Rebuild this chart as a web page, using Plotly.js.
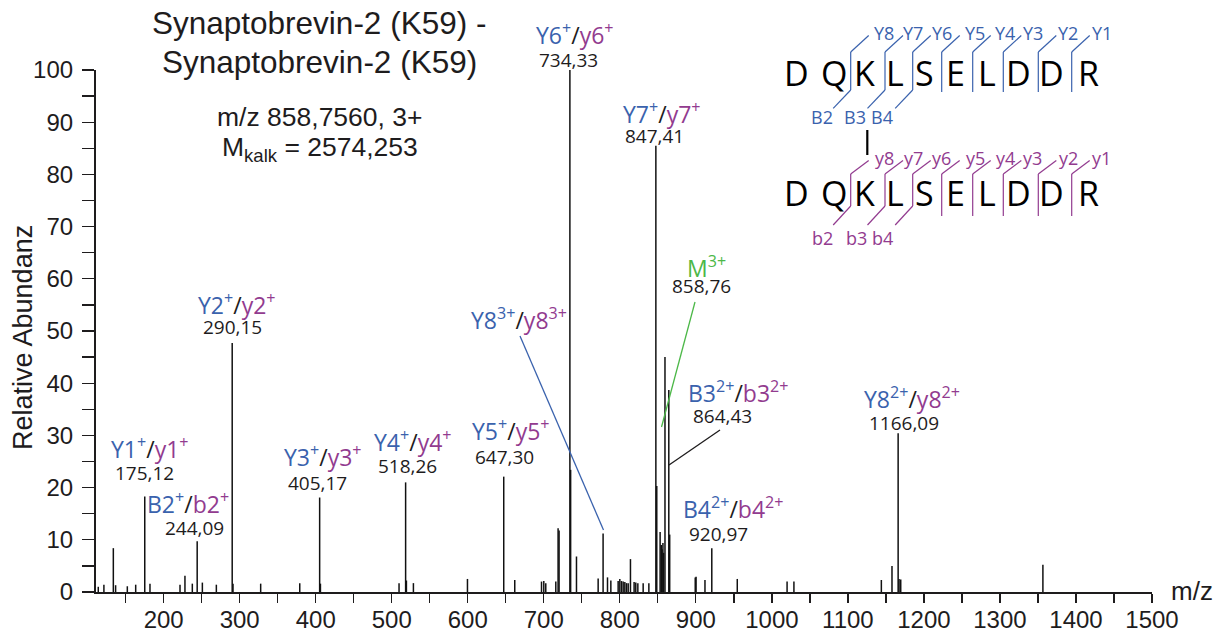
<!DOCTYPE html>
<html><head><meta charset="utf-8">
<script src="https://cdn.plot.ly/plotly-3.0.1.min.js"></script>
<style>html,body{margin:0;padding:0;background:#fff}#chart{width:1220px;height:634px}</style>
</head><body><div id="chart"></div>
<script>
// ---------- data ----------
const peakMz = [114.0,121.4,133.8,136.8,152.2,163.2,175.12,182.0,221.5,228.0,237.7,244.09,250.9,269.3,290.15,291.2,327.6,379.0,405.17,406.2,509.6,518.26,519.3,528.5,599.6,647.30,661.8,697.0,700.0,702.6,715.8,718.8,720.1,734.33,735.3,743.0,771.5,778.0,783.8,788.2,797.8,800.0,802.2,804.4,806.6,808.8,811.0,814.0,818.8,821.0,823.7,830.7,838.2,847.41,848.6,853.0,854.5,855.6,856.7,857.6,859.4,864.43,865.6,899.2,900.3,912.0,920.97,954.5,1020.0,1029.0,1144.0,1158.0,1166.09,1167.3,1169.5,1356.5];
const peakIntensity = [1.0,1.4,8.4,1.3,1.1,1.4,18.3,1.6,1.4,3.1,1.6,9.7,1.8,1.4,47.7,1.6,1.6,1.7,18.1,1.6,1.7,21.0,2.2,1.7,2.5,22.1,2.3,2.0,2.1,1.7,2.0,12.2,11.8,100,23.4,6.8,2.6,11.2,2.8,2.2,2.1,2.5,2.1,2.0,1.9,1.7,1.7,6.3,1.9,1.8,1.7,1.7,1.7,85.5,20.3,11.5,9.0,8.2,9.4,7.5,45.0,38.7,11.0,2.8,2.9,2.3,8.4,2.5,2.0,2.0,2.3,5.0,30.4,2.5,2.4,5.2];

const ionUpper  = ['Y1','B2','Y2','Y3','Y4','Y5','Y6','Y7','Y8','B3','B4','Y8'];
const ionLower  = ['y1','b2','y2','y3','y4','y5','y6','y7','y8','b3','b4','y8'];
const ionCharge = ['+','+','+','+','+','+','+','+','3+','2+','2+','2+'];
const ionMzText = ['175,12','244,09','290,15','405,17','518,26','647,30','734,33','847,41','','864,43','920,97','1166,09'];
const precursorLabel = 'M';
const precursorCharge = '3+';
const precursorMzText = '858,76';

const sequence = ['D','Q','K','L','S','E','L','D','D','R'];
const yFragTop = ['Y8','Y7','Y6','Y5','Y4','Y3','Y2','Y1'];
const bFragTop = ['B2','B3','B4'];
const yFragBottom = ['y8','y7','y6','y5','y4','y3','y2','y1'];
const bFragBottom = ['b2','b3','b4'];

const xTickVals = [200,300,400,500,600,700,800,900,1000,1100,1200,1300,1400,1500];
const yTickVals = [0,10,20,30,40,50,60,70,80,90,100];

// ---------- styling / layout helpers ----------
const BLUE = '#3a62ad', PURPLE = '#923b8f', GREEN = '#4cb848', INK = '#1e1c1d';
const SANS = 'Liberation Sans, Arial, sans-serif';
const HUM = 'Open Sans, Noto Sans, sans-serif';
const L = 96, R = 1152, T = 70, B = 592;
const px = x => (x - L) / (R - L);
const py = y => (B - y) / (B - T);

function txt(x, y, text, size, family, color, extra) {
  return Object.assign({xref:'paper', yref:'paper', x:px(x), y:py(y), text:text, showarrow:false,
    xanchor:'center', yanchor:'middle', font:{size:size, family:family, color:color}}, extra || {});
}
function seg(x0, y0, x1, y1, color, width) {
  return {type:'line', xref:'paper', yref:'paper', x0:px(x0), y0:py(y0), x1:px(x1), y1:py(y1),
    line:{color:color, width:width}};
}

// peaks as stick lines
const xs = [], ys = [];
peakMz.forEach((m, i) => { xs.push(m, m, null); ys.push(0, peakIntensity[i], null); });

const annotations = [];
const shapes = [];

// title and info text
annotations.push(txt(319, 23, 'Synaptobrevin-2 (K59) -', 31.5, SANS, INK));
annotations.push(txt(319.5, 62, 'Synaptobrevin-2 (K59)', 31.5, SANS, INK));
annotations.push(txt(319.5, 117, 'm/z 858,7560, 3+', 26.5, SANS, INK));
annotations.push(txt(319.5, 149, 'M<sub>kalk</sub> = 2574,253', 26.5, SANS, INK));
annotations.push(txt(23, 338, 'Relative Abundanz', 27, SANS, INK, {textangle:-90}));
annotations.push(txt(1192, 591, 'm/z', 26, SANS, INK));

// ion labels: [name center x, name center y, number center x, number center y]
const ionPos = [
  [149.5,447.5,144,473],[188,503,194,528],[236.7,304,232,327],[323,456.5,317.5,482.5],
  [413,441,407.5,465.5],[511,430,504,457.5],[574.5,34,568.7,60],[662,113,654.7,136],
  [519,319,0,0],[738.8,391.7,722.5,416],[733,508,718,534],[911.7,398.3,903.8,423]
];
ionUpper.forEach((u, i) => {
  const p = ionPos[i];
  const t = `<span style="color:${BLUE}">${u}<sup>${ionCharge[i]}</sup></span>/<span style="color:${PURPLE}">${ionLower[i]}<sup>${ionCharge[i]}</sup></span>`;
  annotations.push(txt(p[0], p[1], t, 23, HUM, INK));
  if (ionMzText[i]) annotations.push(txt(p[2], p[3], ionMzText[i], 19, HUM, INK));
});
annotations.push(txt(706.7, 266.7, `${precursorLabel}<sup>${precursorCharge}</sup>`, 23, HUM, GREEN));
annotations.push(txt(701.7, 285.5, precursorMzText, 19, HUM, INK));

// leader lines
shapes.push(seg(520, 336, 603.5, 530, BLUE, 1.3));
shapes.push(seg(695, 302, 661.5, 427, GREEN, 1.3));
shapes.push(seg(720, 430, 669, 465, INK, 1.3));

// peptide diagram
const letterX = [796.7,834,864,895,924.3,955,986.7,1018.3,1051.7,1088.3];
const breakX = [850.7,885,912.7,941.7,972.7,1003.3,1038.3,1071.7];
const yLabX = [884,913.3,941.7,975,1005,1032.7,1068.3,1101.7];
const bLabX = [821.7,855,881.7];
sequence.forEach((s, i) => {
  annotations.push(txt(letterX[i], 73.3, s, 34, HUM, '#000'));
  annotations.push(txt(letterX[i], 193.3, s, 34, HUM, '#000'));
});
yFragTop.forEach((f, i) => annotations.push(txt(yLabX[i], 33.3, f, 18, HUM, BLUE)));
bFragTop.forEach((f, i) => annotations.push(txt(bLabX[i], 116.7, f, 18, HUM, BLUE)));
yFragBottom.forEach((f, i) => annotations.push(txt(yLabX[i], 158.3, f, 18, HUM, PURPLE)));
bFragBottom.forEach((f, i) => annotations.push(txt(bLabX[i] + 1, 238.3, f, 18, HUM, PURPLE)));
breakX.forEach((bx, i) => {
  const isB = i < 3;
  // top row
  shapes.push(seg(bx, 52, bx + 18, 35.5, BLUE, 1.2));
  shapes.push(seg(bx, 52, bx, isB ? 90 : 92, BLUE, 1.2));
  if (isB) shapes.push(seg(bx, 90, bx - 17.5, 108.3, BLUE, 1.2));
  // bottom row
  shapes.push(seg(bx, 174, bx + 18, 160.5, PURPLE, 1.2));
  shapes.push(seg(bx, 174, bx, isB ? 206 : 216, PURPLE, 1.2));
  if (isB) shapes.push(seg(bx, 206, bx - 17.5, 225, PURPLE, 1.2));
});
shapes.push(seg(867.3, 130, 867.3, 155, '#000', 2.2));

const data = [{
  type:'scatter', mode:'lines', x:xs, y:ys, hoverinfo:'skip',
  line:{color:'#111', width:1.5}, showlegend:false
}];

const layout = {
  width:1220, height:634,
  margin:{l:L, r:1220 - R, t:T, b:634 - B, pad:0},
  paper_bgcolor:'#fff', plot_bgcolor:'rgba(0,0,0,0)',
  showlegend:false, hovermode:false,
  xaxis:{
    range:[111, 1500], showgrid:false, zeroline:false,
    showline:true, linecolor:INK, linewidth:1.6,
    tickmode:'array', tickvals:xTickVals, ticktext:xTickVals.map(String),
    ticks:'outside', ticklen:9, tickwidth:1.3, tickcolor:INK, ticklabelstandoff:-3,
    minor:{dtick:50, tick0:0, ticks:'outside', ticklen:9, tickwidth:1.3, tickcolor:INK, showgrid:false},
    tickfont:{family:SANS, size:24, color:INK}
  },
  yaxis:{
    range:[0, 100], showgrid:false, zeroline:false,
    showline:true, linecolor:INK, linewidth:1.6,
    tickmode:'array', tickvals:yTickVals, ticktext:yTickVals.map(String),
    ticks:'outside', ticklen:12.5, tickwidth:1.3, tickcolor:INK, ticklabelstandoff:4,
    minor:{dtick:5, tick0:0, ticks:'outside', ticklen:12.5, tickwidth:1.3, tickcolor:INK, showgrid:false},
    tickfont:{family:SANS, size:24, color:INK}
  },
  annotations:annotations,
  shapes:shapes
};

Plotly.newPlot('chart', data, layout, {staticPlot:true, displayModeBar:false});
</script>
</body></html>
